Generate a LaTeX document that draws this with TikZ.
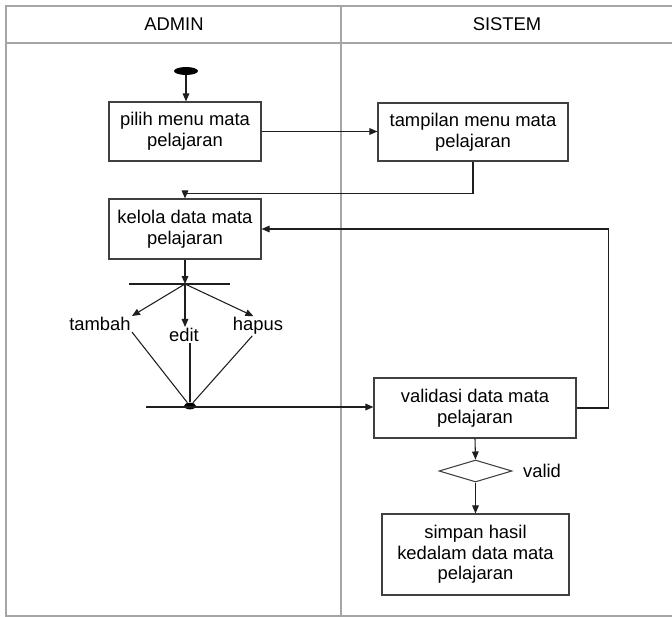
\documentclass[tikz,border=0pt]{standalone}
\usepackage{fontspec}
\setmainfont{Liberation Sans}
\usepackage{xcolor}
\usetikzlibrary{arrows.meta,shapes.geometric}

\begin{document}
\begin{tikzpicture}[x=0.75pt,y=0.75pt,yscale=-1,xscale=1,
  font=\fontsize{13.8}{15.5}\selectfont,
  lane/.style={draw={rgb,255:red,165;green,165;blue,165},line width=1.1pt},
  act/.style={draw={rgb,255:red,64;green,64;blue,64},line width=0.9pt,fill=white,align=center,inner sep=0pt},
  flow/.style={draw={rgb,255:red,30;green,30;blue,30},line width=0.8pt},
  arr/.style={flow,-{Triangle[length=6pt,width=5pt]}},
  lbl/.style={inner sep=0.75pt}]
%set diagram left start at 0, and has height of 617
\useasboundingbox (0,0) rectangle (672,617);

%Shape: Swimlane
\draw [lane] (672,6) -- (6,6) -- (6,616) -- (672,616) ;
\draw [lane] (341,6) -- (341,616) ;
\draw [lane, line width=1.6pt] (6,43) -- (672,43) ;

% Text Node
\draw (174,24) node [lbl] (admin) {ADMIN};
% Text Node
\draw (507,24) node [lbl] (sistem) {SISTEM};

%Shape: Ellipse
\draw (186,71) node [ellipse, fill=black, minimum width=18pt, minimum height=6pt, inner sep=0pt] (mulai) {};

%Shape: Rectangle
\draw (185,131.5) node [act, minimum width=114pt, minimum height=44.25pt] (pilih) {pilih menu mata\\pelajaran};
%Shape: Rectangle
\draw (473,132) node [act, minimum width=142.5pt, minimum height=43.5pt] (tampil) {tampilan menu mata\\pelajaran};
%Shape: Rectangle
\draw (185,229) node [act, minimum width=114pt, minimum height=45pt] (kelola) {kelola data mata\\pelajaran};
%Shape: Rectangle
\draw (475,408) node [act, minimum width=151.5pt, minimum height=45pt] (validasi) {validasi data mata\\pelajaran};
%Shape: Diamond
\draw (475.5,471) node [diamond, draw={rgb,255:red,64;green,64;blue,64}, line width=0.8pt, minimum width=54.75pt, minimum height=16.5pt, inner sep=0pt] (cek) {};
%Shape: Rectangle
\draw (475.5,554.5) node [act, minimum width=140.25pt, minimum height=60.75pt] (simpan) {simpan hasil\\kedalam data mata\\pelajaran};

% Text Node
\draw (100,324) node [lbl] (tambah) {tambah};
% Text Node
\draw (184,335) node [lbl] (edit) {edit};
% Text Node
\draw (258,326) node [lbl] (hapus) {hapus};
% Text Node
\draw (542,471) node [lbl] (valid) {valid};

%Shape: Fork and join
\coordinate (fork) at (185,284);
\draw [flow] (129,284) -- (230,284) ;
\draw (190,406) node [ellipse, fill=black, minimum width=9pt, minimum height=5pt, inner sep=0pt] (gabung) {};
\coordinate (masuk) at (146,407);

%Straight Lines
\draw [arr] (mulai.south) -- (mulai.south |- pilih.north) ;
\draw [arr] (pilih.east) -- (pilih.east -| tampil.west) ;
\draw [arr] (tampil.south) -- ++(0,32) -| (kelola.north) ;
\draw [arr] (kelola.south) -- (fork) ;
\draw [arr] (fork) -- (tambah.north east) ;
\draw [arr] (fork) -- (fork |- edit.north) ;
\draw [arr] (fork) -- (hapus.115) ;
\draw [flow] (tambah.south east) -- (gabung) ;
\draw [flow] (edit.south -| gabung) -- (gabung) ;
\draw [flow] (hapus.240) -- (gabung) ;
\draw [arr] (masuk) -- (masuk -| validasi.west) ;
\draw [arr] (validasi.east) -- ++(32,0) |- (kelola.east) ;
\draw [arr] (validasi.south) -- (cek.north) ;
\draw [arr] (cek.south) -- (simpan.north) ;
\end{tikzpicture}
\end{document}
